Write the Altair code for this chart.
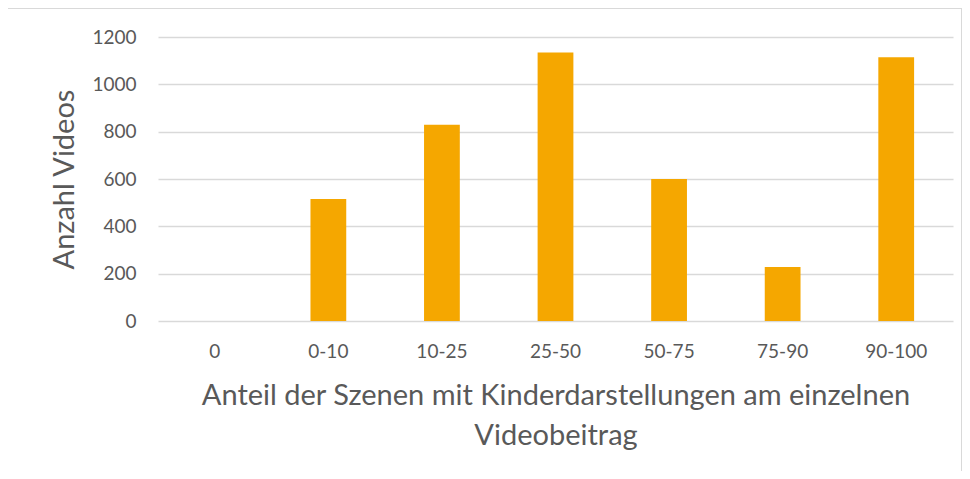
import altair as alt
import pandas as pd

categories = ["0", "0-10", "10-25", "25-50", "50-75", "75-90", "90-100"]
values = [0, 515, 829, 1135, 600, 228, 1114]

df = pd.DataFrame({"Anteil": categories, "Anzahl": values})

FONT = "Lato"
TXT = "#595959"

bars = alt.Chart(df).mark_bar(color="#F5A700").encode(
    x=alt.X(
        "Anteil:N",
        sort=categories,
        scale=alt.Scale(paddingInner=0.685, paddingOuter=0.3425),
        axis=alt.Axis(
            title=["Anteil der Szenen mit Kinderdarstellungen am einzelnen", "Videobeitrag"],
            labelAngle=0,
            labelFontSize=19,
            labelColor=TXT,
            labelPadding=21,
            ticks=False,
            domain=False,
            titleFontSize=29,
            titleFontWeight="normal",
            titleColor=TXT,
            titlePadding=20,
            titleLineHeight=40,
        ),
    ),
    y=alt.Y(
        "Anzahl:Q",
        scale=alt.Scale(domain=[0, 1200]),
        axis=alt.Axis(
            title="Anzahl Videos",
            values=[0, 200, 400, 600, 800, 1000, 1200],
            format="d",
            labelFontSize=19,
            labelColor=TXT,
            labelPadding=22,
            ticks=False,
            domain=False,
            gridColor="#D9D9D9",
            gridWidth=1.3,
            titleFontSize=29,
            titleFontWeight="normal",
            titleColor=TXT,
            titlePadding=12,
        ),
    ),
)

frame = alt.Chart(df).mark_rect(fill=None, stroke="#D9D9D9", strokeWidth=1.3).encode(
    x=alt.value(-151), x2=alt.value(804), y=alt.value(-29), y2=alt.value(460)
)

chart = alt.layer(frame, bars).properties(
    width=795, height=284,
    padding={"left": 150, "top": 29, "right": 9, "bottom": 150},
    autosize=alt.AutoSizeParams(type="none"),
).configure(font=FONT).configure_view(stroke=None)

chart.save("out.html", embed_options={"renderer": "svg", "actions": False})
